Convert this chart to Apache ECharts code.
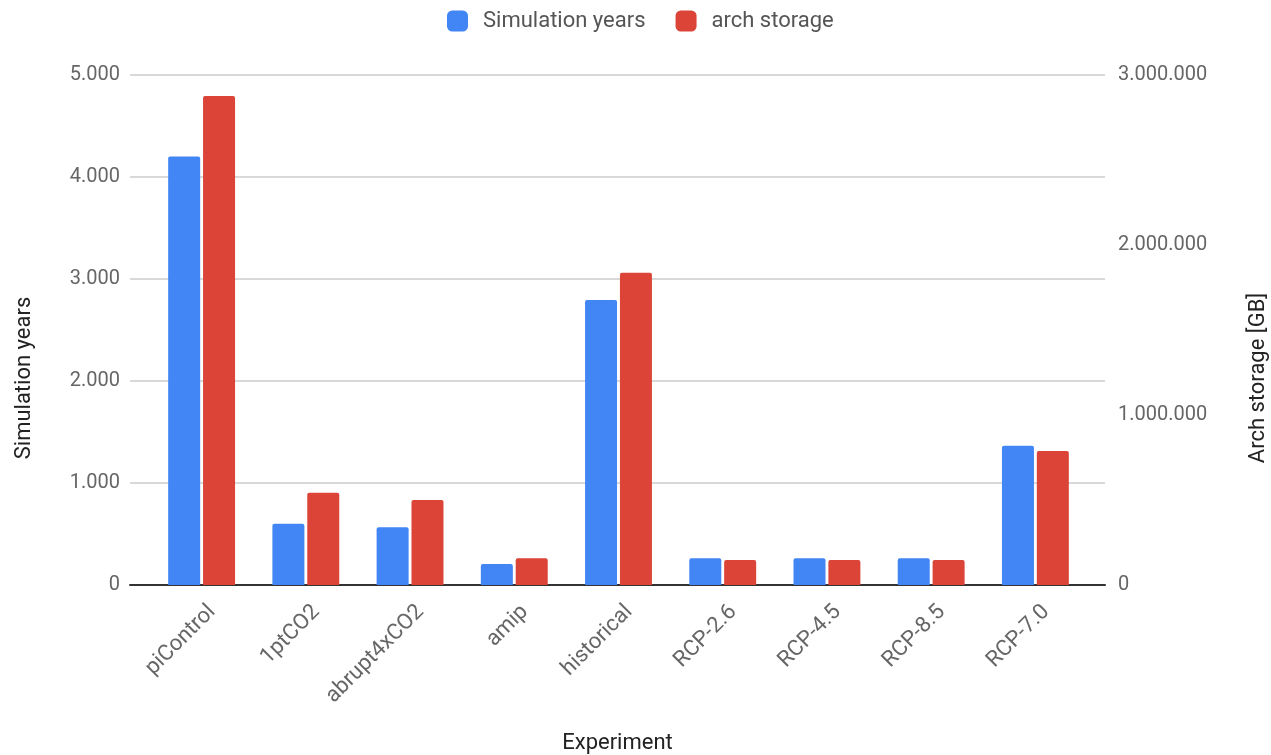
<!DOCTYPE html>
<html>
<head>
<meta charset="utf-8">
<script src="https://cdn.jsdelivr.net/npm/echarts@6/dist/echarts.min.js"></script>
<style>html,body{margin:0;padding:0;background:#fff}#c{width:1271px;height:755px}</style>
</head>
<body>
<div id="c"></div>
<script>
const categories = ['piControl','1ptCO2','abrupt4xCO2','amip','historical','RCP-2.6','RCP-4.5','RCP-8.5','RCP-7.0'];
const simulationYears = [4200, 600, 565, 205, 2795, 262, 262, 262, 1365];
const archStorage = [2876000, 543000, 500000, 157000, 1837000, 147000, 147000, 147000, 788000];
const leftTicks = {min: 0, max: 5000, interval: 1000};
const rightTicks = {min: 0, max: 3000000, interval: 1000000};

function fmt(v){ return String(Math.round(v)).replace(/\B(?=(\d{3})+(?!\d))/g, '.'); }

const chart = echarts.init(document.getElementById('c'));
const font = 'Roboto';
const tickColor = '#666666';
const titleColor = '#222222';
chart.setOption({
  textStyle: {fontFamily: font},
  legend: {
    top: 5, left: 442, itemWidth: 21, itemHeight: 21, itemGap: 30,
    icon: 'roundRect',
    textStyle: {fontSize: 22, color: '#555555', fontFamily: font, padding: [0,0,0,10]},
    data: ['Simulation years', 'arch storage']
  },
  grid: [
    {left: 149.5, right: 183.5, top: 75, bottom: 170, outerBoundsMode: 'none'},
    {left: 130, right: 166, top: 75, bottom: 170, outerBoundsMode: 'none'}
  ],
  xAxis: [{
    type: 'category', data: categories, gridIndex: 0,
    axisLine: {show: false},
    axisTick: {show: false},
    axisLabel: {rotate: 45, fontSize: 22, color: tickColor, margin: 13, interval: 0, fontFamily: font,
      verticalAlign: 'top', lineHeight: 30}
  }, {
    type: 'value', gridIndex: 1, min: 0, max: 1,
    name: 'Experiment', nameLocation: 'middle', nameGap: 147,
    nameTextStyle: {fontSize: 22, color: titleColor, fontFamily: font},
    axisLine: {show: true, lineStyle: {color: '#333', width: 2}},
    axisTick: {show: false}, axisLabel: {show: false}, splitLine: {show: false}
  }],
  yAxis: [{
    type: 'value', gridIndex: 0, min: leftTicks.min, max: leftTicks.max, interval: leftTicks.interval, show: false
  }, {
    type: 'value', gridIndex: 0, min: rightTicks.min, max: rightTicks.max, interval: rightTicks.interval, show: false
  }, {
    type: 'value', gridIndex: 1, position: 'left',
    min: leftTicks.min, max: leftTicks.max, interval: leftTicks.interval,
    name: 'Simulation years', nameLocation: 'middle', nameGap: 95, nameRotate: 90,
    nameTextStyle: {fontSize: 22, color: titleColor, fontFamily: font, padding: [0, 96, 0, 0]},
    axisLine: {show: false}, axisTick: {show: false},
    axisLabel: {formatter: fmt, fontSize: 20, color: tickColor, margin: 10, fontFamily: font},
    splitLine: {lineStyle: {color: '#cccccc', width: 1.5}}
  }, {
    type: 'value', gridIndex: 1, position: 'right',
    min: rightTicks.min, max: rightTicks.max, interval: rightTicks.interval,
    name: 'Arch storage [GB]', nameLocation: 'middle', nameGap: 142, nameRotate: 90,
    nameTextStyle: {fontSize: 22, color: titleColor, fontFamily: font, padding: [0, 96, 0, 0]},
    axisLine: {show: false}, axisTick: {show: false},
    axisLabel: {formatter: fmt, fontSize: 20, color: tickColor, margin: 13, fontFamily: font},
    splitLine: {show: false}
  }],
  series: [{
    name: 'Simulation years', type: 'bar', xAxisIndex: 0, yAxisIndex: 0, data: simulationYears,
    barWidth: 32, barGap: '9%', z: 3,
    itemStyle: {color: '#4285F4', borderRadius: [2,2,0,0]}
  }, {
    name: 'arch storage', type: 'bar', xAxisIndex: 0, yAxisIndex: 1, data: archStorage,
    barWidth: 32, z: 3,
    itemStyle: {color: '#DB4437', borderRadius: [2,2,0,0]}
  }]
});
</script>
</body>
</html>
